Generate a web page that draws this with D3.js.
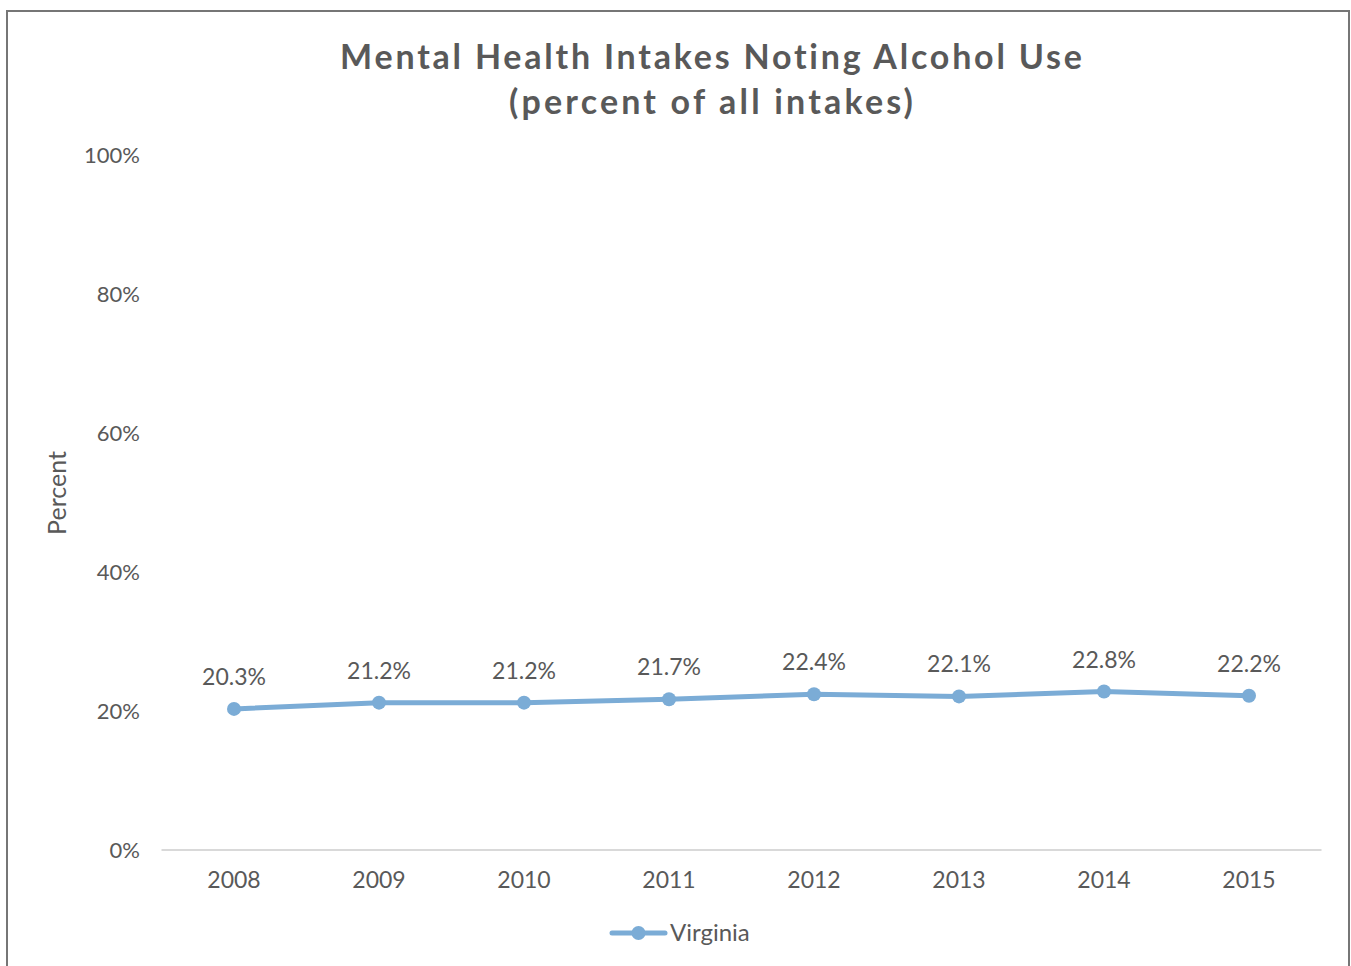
<!DOCTYPE html>
<html><head><meta charset="utf-8">
<script src="https://cdn.jsdelivr.net/npm/d3@7"></script>
<style>
html,body{margin:0;padding:0;background:#fff;}
svg{display:block;}
text{font-family:"Lato","Open Sans",sans-serif;}
</style></head>
<body>
<svg id="c" width="1351" height="966"></svg>
<script>
const categories = ["2008","2009","2010","2011","2012","2013","2014","2015"];
const values = [20.3, 21.2, 21.2, 21.7, 22.4, 22.1, 22.8, 22.2];
const yTicks = [0, 20, 40, 60, 80, 100];
const seriesName = "Virginia";
const titleLines = ["Mental Health Intakes Noting Alcohol Use", "(percent of all intakes)"];
const titleWidths = [745, 407];

const svg = d3.select("#c");
const textColor = "#595959";
const lineColor = "#7BACD6";

// frame
svg.append("rect").attr("x", 7).attr("y", 11).attr("width", 1342).attr("height", 970)
  .attr("fill", "#fff").attr("stroke", "#767676").attr("stroke-width", 2);

const x = d3.scaleBand().domain(categories).range([161.5, 1321.5]);
const y = d3.scaleLinear().domain([0, 100]).range([850, 155]);

// title
const tt = svg.append("g").selectAll("text").data(titleLines).join("text")
  .attr("x", 711).attr("y", (d, i) => 69 + i * 45)
  .attr("text-anchor", "middle").attr("fill", textColor)
  .attr("font-family", "'Open Sans', sans-serif")
  .attr("font-size", 34).attr("font-weight", "bold").text(d => d);
tt.each(function(d, i) {
  const w = this.getComputedTextLength();
  const ls = (titleWidths[i] - w) / d.length;
  d3.select(this).attr("letter-spacing", ls.toFixed(2))
    .attr("x", 711 + ls / 2);
});

// baseline
svg.append("line").attr("x1", 161.5).attr("x2", 1321.5)
  .attr("y1", y(0)).attr("y2", y(0)).attr("stroke", "#d9d9d9").attr("stroke-width", 2);

// y axis labels
const yAxis = d3.axisLeft(y).tickValues(yTicks).tickFormat(d => d + "%").tickSize(0).tickPadding(0);
const gy = svg.append("g").attr("transform", "translate(140,0)").call(yAxis);
gy.select(".domain").remove();
gy.selectAll("text").attr("font-size", 22).attr("fill", textColor).attr("font-family", "Lato, sans-serif");

// x axis labels
const xAxis = d3.axisBottom(x).tickSize(0).tickPadding(0);
const gx = svg.append("g").attr("transform", "translate(0,872)").call(xAxis);
gx.select(".domain").remove();
gx.selectAll("text").attr("font-size", 23).attr("fill", textColor).attr("font-family", "Lato, sans-serif");

// y title
svg.append("text").attr("transform", "translate(66,493) rotate(-90)")
  .attr("text-anchor", "middle").attr("fill", textColor).attr("font-size", 25).text("Percent");

const cx = d => x(d) + x.bandwidth() / 2;
const line = d3.line().x((d, i) => cx(categories[i])).y(d => y(d));
svg.append("path").datum(values).attr("d", line).attr("fill", "none")
  .attr("stroke", lineColor).attr("stroke-width", 5).attr("stroke-linejoin", "round");

svg.append("g").selectAll("circle").data(values).join("circle")
  .attr("cx", (d, i) => cx(categories[i])).attr("cy", d => y(d)).attr("r", 7)
  .attr("fill", lineColor);

svg.append("g").selectAll("text").data(values).join("text")
  .attr("x", (d, i) => cx(categories[i])).attr("y", d => y(d) - 24)
  .attr("text-anchor", "middle").attr("fill", textColor).attr("font-size", 23)
  .text(d => d.toFixed(1) + "%");

// legend
const lg = svg.append("g");
lg.append("line").attr("x1", 612).attr("x2", 665).attr("y1", 933).attr("y2", 933)
  .attr("stroke", lineColor).attr("stroke-width", 5).attr("stroke-linecap", "round");
lg.append("circle").attr("cx", 638.5).attr("cy", 933).attr("r", 7).attr("fill", lineColor);
lg.append("text").attr("x", 670).attr("y", 941).attr("fill", textColor).attr("font-size", 24).text(seriesName);
</script>
</body></html>
